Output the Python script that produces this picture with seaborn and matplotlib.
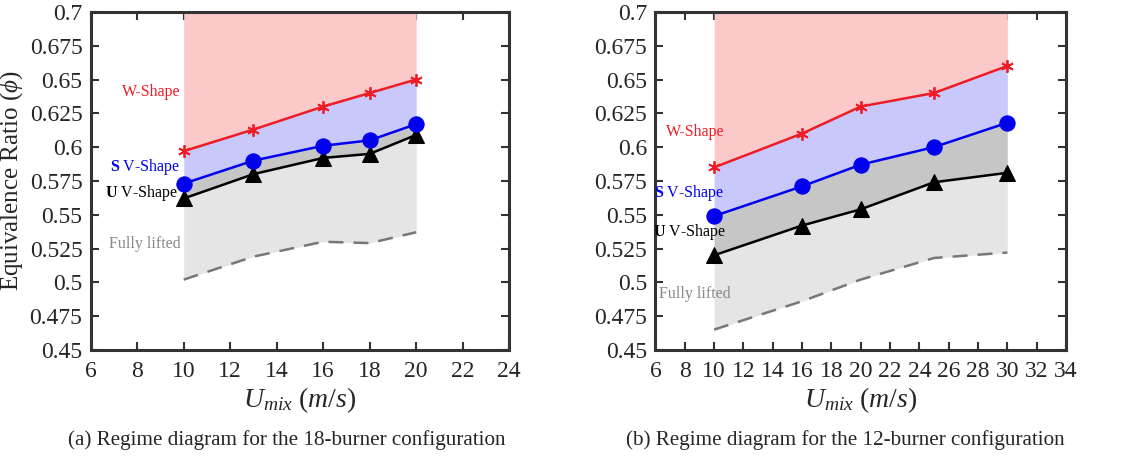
import numpy as np
import matplotlib
matplotlib.use("Agg")
import matplotlib.pyplot as plt
import seaborn as sns

# ---- data ----
u18 = [10, 13, 16, 18, 20]
w18 = [0.597, 0.613, 0.630, 0.640, 0.650]
s18 = [0.573, 0.590, 0.601, 0.605, 0.617]
v18 = [0.562, 0.580, 0.592, 0.595, 0.609]
lift18 = [0.502, 0.519, 0.530, 0.529, 0.537]

u12 = [10, 16, 20, 25, 30]
w12 = [0.585, 0.610, 0.630, 0.640, 0.660]
s12 = [0.549, 0.571, 0.587, 0.600, 0.618]
v12 = [0.520, 0.542, 0.554, 0.574, 0.581]
lift12 = [0.465, 0.486, 0.502, 0.518, 0.522]

yticks = [0.45, 0.475, 0.5, 0.525, 0.55, 0.575, 0.6, 0.625, 0.65, 0.675, 0.7]
ytick_labels = ["0.45", "0.475", "0.5", "0.525", "0.55", "0.575", "0.6", "0.625", "0.65", "0.675", "0.7"]

sns.set_style("ticks")
plt.rcParams["font.family"] = ["Liberation Serif", "DejaVu Serif"]
plt.rcParams["mathtext.fontset"] = "custom"
plt.rcParams["mathtext.rm"] = "Liberation Serif"
plt.rcParams["mathtext.it"] = "Liberation Serif:italic"
plt.rcParams["mathtext.bf"] = "Liberation Serif:bold"

fig = plt.figure(figsize=(11.34, 4.58), dpi=100)
ax1 = fig.add_axes([0.080, 0.236, 0.369, 0.738])
ax2 = fig.add_axes([0.578, 0.236, 0.362, 0.738])


def draw_panel(ax, u, w, s, v, lift, xlim, labels):
    u = np.array(u)
    ax.fill_between(u, w, 0.7, color="#fbc9c9", lw=0)
    ax.fill_between(u, s, w, color="#c8c8fa", lw=0)
    ax.fill_between(u, v, s, color="#c6c6c6", lw=0)
    ax.fill_between(u, lift, v, color="#e5e5e5", lw=0)
    sns.lineplot(x=u, y=lift, ax=ax, color="#777777", lw=1.8, linestyle=(0, (6, 4)))
    sns.lineplot(x=u, y=v, ax=ax, color="black", lw=1.8, marker="^", markersize=11,
                 markeredgecolor="black")
    sns.lineplot(x=u, y=s, ax=ax, color="#0000ee", lw=1.8, marker="o", markersize=11,
                 markeredgecolor="#0000ee")
    sns.lineplot(x=u, y=w, ax=ax, color="#ee1c25", lw=1.8, marker=(6, 2, 0), markersize=9,
                 markeredgecolor="#ee1c25", markeredgewidth=1.3)
    ax.set_xlim(*xlim)
    ax.set_ylim(0.45, 0.7)
    ax.set_xticks(np.arange(xlim[0], xlim[1] + 1, 2))
    ax.set_yticks(yticks)
    ax.set_yticklabels(ytick_labels)
    ax.tick_params(direction="in", length=6, width=1.5, top=True, right=True,
                   pad=6, color="#333333")
    ax.tick_params(axis="y", labelsize=17)
    ax.tick_params(axis="x", labelsize=17, pad=8)
    for sp in ax.spines.values():
        sp.set_linewidth(2.2)
        sp.set_color("#333333")
    ax.set_xlabel(r"$U_{mix}\ (m/s)$", fontsize=20, labelpad=2)
    for (x, y, txt, col) in labels:
        ax.text(x, y, txt, color=col, fontsize=11.5, ha="right", va="center")


draw_panel(ax1, u18, w18, s18, v18, lift18, (6, 24), [
    (9.85, 0.641, "W-Shape", "#ee1c25"),
    (9.85, 0.585, r"$\mathbf{S}$ V-Shape", "#0000ee"),
    (9.75, 0.566, r"$\mathbf{U}$ V-Shape", "black"),
    (9.85, 0.528, "Fully lifted", "#888888"),
])
draw_panel(ax2, u12, w12, s12, v12, lift12, (6, 34), [
    (10.7, 0.611, "W-Shape", "#ee1c25"),
    (10.7, 0.566, r"$\mathbf{S}$ V-Shape", "#0000ee"),
    (10.8, 0.537, r"$\mathbf{U}$ V-Shape", "black"),
    (11.1, 0.491, "Fully lifted", "#888888"),
])
ax1.set_ylabel(r"Equivalence Ratio ($\phi$)", fontsize=18, labelpad=3)

fig.text(0.253, 0.040, "(a) Regime diagram for the 18-burner configuration",
         ha="center", va="center", fontsize=15.2)
fig.text(0.745, 0.040, "(b) Regime diagram for the 12-burner configuration",
         ha="center", va="center", fontsize=15.2)

fig.savefig("out.png", dpi=100)
